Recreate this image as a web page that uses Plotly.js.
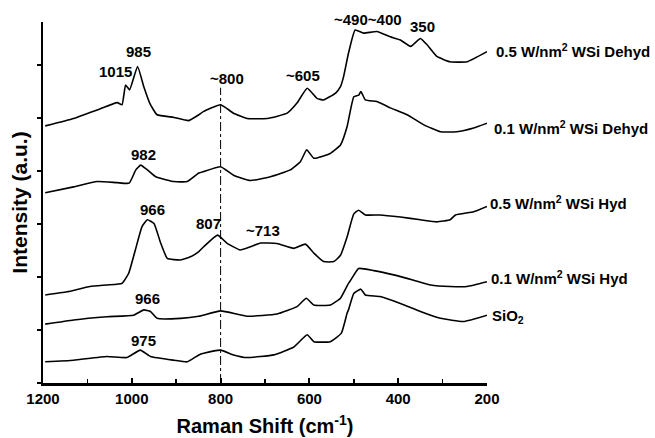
<!DOCTYPE html>
<html>
<head>
<meta charset="utf-8">
<script src="https://cdn.plot.ly/plotly-3.0.1.min.js"></script>
<style>html,body{margin:0;padding:0;background:#fff}#chart{width:655px;height:438px}</style>
</head>
<body>
<div id="chart"></div>
<script>
// Raman shift (cm-1) and offset intensity (a.u.)
const dehyd05_x = [1195,1131,1078,1033,1022,1014,1005,987,973,958,943,905,872,849,839,800,771,740,695,650,628,605,583,568,541,530,523,512,497,478,448,418,395,372,350,335,313,283,245,200];
const dehyd05_y = [4.85,4.99,5.15,5.29,5.25,5.62,5.53,5.97,5.59,5.25,5.06,5.01,4.95,5.06,5.12,5.25,5.09,4.99,4.99,5.09,5.28,5.56,5.37,5.34,5.47,5.59,5.78,6.22,6.66,6.60,6.63,6.53,6.47,6.35,6.50,6.38,6.16,6.06,6.06,6.25];

const dehyd01_x = [1195,1131,1078,1033,1006,991,980,965,946,905,875,849,838,800,771,733,688,643,620,606,590,553,530,515,500,489,484,474,448,418,380,342,305,268,230,200];
const dehyd01_y = [3.59,3.70,3.80,3.78,3.77,4.02,4.11,4.02,3.89,3.80,3.80,3.96,3.99,4.08,3.92,3.82,3.89,4.02,4.18,4.40,4.24,4.33,4.49,4.84,5.40,5.43,5.50,5.34,5.31,5.19,5.06,4.87,4.74,4.74,4.81,4.90];

const hyd05_x = [1195,1146,1094,1056,1022,1007,992,977,965,950,935,920,890,868,849,838,807,786,756,733,710,673,635,609,590,568,545,530,515,500,489,474,441,395,350,313,283,271,230,200];
const hyd05_y = [1.66,1.72,1.82,1.85,1.88,2.07,2.51,2.95,3.08,3.01,2.64,2.35,2.32,2.38,2.48,2.57,2.79,2.64,2.51,2.57,2.64,2.63,2.54,2.62,2.45,2.29,2.29,2.41,2.76,3.19,3.26,3.17,3.17,3.13,3.08,3.04,3.08,3.17,3.23,3.33];

const hyd01_x = [1195,1131,1056,996,973,958,943,890,849,800,740,673,628,607,590,553,530,512,507,489,455,410,365,327,283,245,200];
const hyd01_y = [1.11,1.19,1.25,1.28,1.38,1.35,1.22,1.22,1.26,1.36,1.26,1.30,1.44,1.60,1.47,1.47,1.60,1.88,1.94,2.16,2.12,2.04,1.94,1.85,1.82,1.82,1.91];

const sio2_x = [1195,1131,1056,1011,981,958,905,875,849,838,800,771,740,680,635,605,590,553,528,515,512,500,484,474,441,395,350,305,253,200];
const sio2_y = [0.40,0.43,0.50,0.48,0.62,0.50,0.43,0.40,0.53,0.56,0.62,0.53,0.48,0.53,0.68,0.91,0.78,0.78,0.94,1.32,1.38,1.69,1.77,1.66,1.63,1.50,1.35,1.22,1.16,1.28];

// series labels at the right of the plot (paper fractions)
const seriesNames = ["0.5 W/nm<sup>2</sup> WSi Dehyd","0.1 W/nm<sup>2</sup> WSi Dehyd","0.5 W/nm<sup>2</sup> WSi Hyd","0.1 W/nm<sup>2</sup> WSi Hyd","SiO<sub>2</sub>"];
const nameX = [1.016,1.011,1.002,1.005,1.007];
const nameY = [0.922,0.709,0.499,0.291,0.185];

// peak labels (data coordinates)
const peakText = ["985","1015","~800","~605","350","982","966","807","~713","966","975"];
const peakX = [985,1037,785,614,346,974,954,827,704,965,974];
const peakY = [6.26,5.87,5.74,5.81,6.72,4.32,3.28,3.00,2.87,1.60,0.81];
// label above the plot top (paper fractions)
const topText = "~490~400";
const topX = 0.732, topY = 1.006;

const xTicks = [1200,1000,800,600,400,200];

const FONT = "Liberation Sans, Arial, Helvetica, sans-serif";
const xs = [dehyd05_x, dehyd01_x, hyd05_x, hyd01_x, sio2_x];
const ys = [dehyd05_y, dehyd01_y, hyd05_y, hyd01_y, sio2_y];
const traces = xs.map((x, i) => ({
  x: x, y: ys[i], type: "scatter", mode: "lines",
  line: {color: "#000", width: 1.6, shape: "spline", smoothing: 0.4},
  hoverinfo: "skip", showlegend: false
}));

const annotations = [];
seriesNames.forEach((t, i) => annotations.push({
  x: nameX[i], y: nameY[i], xref: "paper", yref: "paper", text: "<b>" + t + "</b>",
  showarrow: false, xanchor: "left", yanchor: "middle",
  font: {family: FONT, size: 15, color: "#000"}
}));
peakText.forEach((t, i) => annotations.push({
  x: peakX[i], y: peakY[i], xref: "x", yref: "y", text: "<b>" + t + "</b>",
  showarrow: false, xanchor: "center", yanchor: "middle",
  font: {family: FONT, size: 15, color: "#000"}
}));
annotations.push({
  x: topX, y: topY, xref: "paper", yref: "paper", text: "<b>" + topText + "</b>",
  showarrow: false, xanchor: "center", yanchor: "middle",
  font: {family: FONT, size: 15, color: "#000"}
});

const layout = {
  width: 655, height: 438,
  margin: {l: 43, r: 168, t: 22, b: 55, pad: 0},
  paper_bgcolor: "#fff", plot_bgcolor: "#fff",
  showlegend: false,
  xaxis: {
    range: [1200, 200], tickmode: "array", tickvals: xTicks,
    ticktext: xTicks.map(v => "<b>" + v + "</b>"),
    ticks: "inside", ticklen: 5, tickwidth: 2, tickcolor: "#000",
    minor: {dtick: 100, ticks: "inside", ticklen: 4, tickwidth: 1.5, tickcolor: "#000"},
    showline: true, linecolor: "#000", linewidth: 2.5, mirror: false,
    showgrid: false, zeroline: false,
    tickfont: {family: FONT, size: 15, color: "#000"},
    title: {text: "<b>Raman Shift (cm<sup>-1</sup>)</b>", font: {family: FONT, size: 20, color: "#000"}, standoff: 14}
  },
  yaxis: {
    range: [0, 6.81], tickmode: "linear", tick0: 0, dtick: 1,
    showticklabels: false,
    ticks: "outside", ticklen: 4, tickwidth: 1.5, tickcolor: "#000",
    showline: true, linecolor: "#000", linewidth: 2.5, mirror: false,
    showgrid: false, zeroline: false,
    title: {text: "<b>Intensity (a.u.)</b>", font: {family: FONT, size: 21, color: "#000"}, standoff: 3}
  },
  shapes: [{
    type: "line", xref: "x", yref: "y", x0: 800, x1: 800, y0: 0, y1: 5.57,
    line: {color: "#000", width: 1, dash: "dashdot"}
  }],
  annotations: annotations
};

Plotly.newPlot("chart", traces, layout, {displayModeBar: false, staticPlot: true});
</script>
</body>
</html>
